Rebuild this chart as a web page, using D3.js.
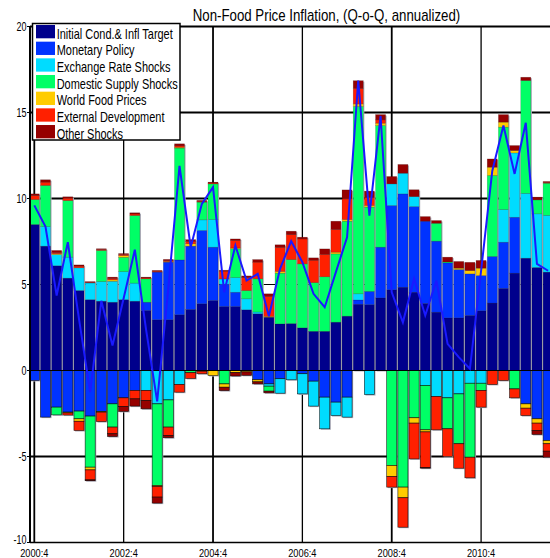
<!DOCTYPE html>
<html>
<head>
<meta charset="utf-8">
<script src="https://cdn.jsdelivr.net/npm/d3@7"></script>
<style>
  body { margin: 0; background: #fff; }
  svg { display: block; }
  text { font-family: "Liberation Sans", Arial, sans-serif; fill: #000; }
</style>
</head>
<body>
<svg id="chart" width="550" height="558"></svg>
<script>
// Quarterly decomposition of non-food price inflation (Q-o-Q, annualized)
const quarters = [
  "2000:4","2001:1","2001:2","2001:3","2001:4","2002:1","2002:2","2002:3","2002:4","2003:1",
  "2003:2","2003:3","2003:4","2004:1","2004:2","2004:3","2004:4","2005:1","2005:2","2005:3",
  "2005:4","2006:1","2006:2","2006:3","2006:4","2007:1","2007:2","2007:3","2007:4","2008:1",
  "2008:2","2008:3","2008:4","2009:1","2009:2","2009:3","2009:4","2010:1","2010:2","2010:3",
  "2010:4","2011:1","2011:2","2011:3","2011:4","2012:1","2012:2"
];
const xTickLabels = ["2000:4","2002:4","2004:4","2006:4","2008:4","2010:4"];
const yTickValues = [-10, -5, 0, 5, 10, 15, 20];

// Contributions, split into the parts pushing up and pushing down
const initialCond = [8.49,7.23,6.09,5.37,4.65,4.12,4.03,3.97,4.12,4.03, 3.49,2.95,2.95,3.24,3.55,3.88,4.07,3.72,3.72,3.53,
  3.3,3.1,2.71,2.73,2.48,2.28,2.28,2.81,3.16,3.85, 3.83,4.22,4.69,4.84,4.55,3.9,3.39,3.06,3.06,3.2, 3.47,3.92,4.77,5.66,6.53,5.99,5.72];
const monetaryUp = [0,0,0,0,0,0,0,0,0,0, 0.48,2.77,3.35,3.19,3.68,4.26,3.1,1.3,0.83,0,
  0,0,0,0,0,0,0,0,0,0.25, 0.77,2.95,4.9,5.43,4.98,4.78,4.13,3.2,2.81,2.42, 2.05,2.71,2.69,3.25,0,0,0];
const monetaryDown = [-0.58,-2.71,-2.13,-2.42,-2.36,-2.65,-2.38,-1.94,-1.59,-1.16, 0,0,0,0,0,0,0,0,0,0,
  -0.54,-0.78,-0.48,0,-0.19,-0.62,-1.55,-1.84,-1.55,0, 0,0,0,0,0,0,0,0,0,0, 0,0,0,0,-1.94,-2.81,-4.07];
const exchangeUp = [0,1.14,0.65,1.22,1.32,0.97,1.14,1.22,1.63,1.05, 0,0,0,0,0,0.62,1.61,0.3,0.85,0.64,
  0.1,0,0,0,0,0,0,0,0,0.36, 0,0,1.26,1.2,0.58,0,0,0,0,0, 0,0,1.9,3.74,3.77,3.12,3.3];
const exchangeDown = [0,0,0,0,0,0,0,0,0,0, -1.16,-1.94,-1.71,-0.81,0,0,0,0,0,0,
  0,-0.13,-0.84,-0.54,-1.17,-1.45,-1.84,-0.78,-1.16,0, -1.4,0,0,0,0,-0.87,-1.51,-1.59,-1.36,-0.74, -0.74,0,0,0,0,0,0];
const domesticUp = [1.45,2.39,0,3.29,0,0,1.81,0,0.83,3.93, 1.36,0,0,6.5,0,1.03,2.07,0,1.67,0.48,
  1.93,0,2.95,3.72,3.72,2.83,3.17,3.97,5.52,10.89, 4.9,7.07,0,0,0,0,1.04,0.05,0,0, 0,4.71,4.79,0,6.56,0.81,1.87];
const domesticDown = [0,0,-0.45,0,-0.45,-2.97,0,-1.35,0,0, 0,-4.75,-1.58,0,-0.13,-0.04,0,-0.78,0,0,
  0,-0.29,0,0,0,0,0,0,0,0, 0,0,-5.52,-6.78,-2.75,-2.58,0,-1.8,-2.9,-4.3, -0.42,0,0,-1.07,0,0,0];
const foodUp = [0,0,0.05,0,0,0,0,0.08,0.1,0, 0,0,0.04,0.05,0.14,0,0,0,0.05,0,
  0,0.05,0.1,0,0,0,0,0.1,0.1,0.15, 0.1,0.14,0,0,0,0,0,0,0.08,0.19, 0.43,0.48,0.29,0.14,0,0,0];
const foodDown = [0,0,0,-0.05,-0.14,-0.16,-0.04,0,0,0, 0,-0.05,0,0,0,0,-0.29,-0.19,-0.12,-0.08,
  -0.12,0,0,0,0,0,0,0,0,0, 0,0,-0.64,-0.62,-0.31,-0.12,0,0,0,0, 0,0,0,0,-0.25,-0.25,-0.19];
const externalUp = [0.23,0.19,0.07,0.14,0.1,0.03,0.05,0.08,0.07,0.09, 0.05,0.05,0.04,0.08,0.14,0.05,0.05,0.45,0.44,0.75,
  0.97,1.16,1.4,1.45,1.45,1.3,1.3,1.32,1.2,0.9, 0.45,0.19,0,0,0,0,0,0,0,0, 0,0,0,0,0,0,0.04];
const externalDown = [0,0,0,-0.12,-0.54,-0.58,-0.55,-0.39,-0.5,-0.49, -0.58,-0.62,-0.49,-0.45,-0.33,-0.15,0,0,0,0,
  0,0,0,0,0,0,0,0,0,0, 0,0,-0.62,-1.71,-2.08,-2.06,-1.94,-1.61,-1.42,-1.2, -0.97,-0.81,-0.58,-0.52,-0.43,-0.43,-0.43];
const otherUp = [0.1,0.14,0.12,0.08,0.07,0.05,0.05,0.08,0.05,0.07, 0.05,0.05,0.08,0.12,0.1,0.05,0.05,0.06,0.09,0.1,
  0.15,0.15,0.15,0.2,0.1,0.14,0.32,0.48,0.52,0.45, 0.38,0.31,0.43,0.51,0.4,0.27,0.16,0.28,0.39,0.48, 0.45,0.48,0.44,0.29,0.19,0.16,0.06];
const otherDown = [0,0,0,0,0,-0.05,0,-0.16,-0.29,-0.42, -0.49,-0.35,-0.13,0,0,0,0,-0.2,-0.2,-0.2,
  -0.12,-0.1,0,0,0,0,0,0,0,0, 0,0,0,0,0,-0.05,0,0,0,0, 0,0,0,0,0,-0.23,-0.35];

// Observed inflation
const inflation = [9.6,8.37,4.36,7.46,3.0,-1.26,4.05,1.45,4.2,7.02, 2.4,-1.8,4.8,11.9,7.17,9.69,10.66,4.55,7.27,5.23,
  5.62,3.16,5.91,7.52,6.3,4.46,3.68,5.72,7.75,16.86, 9.0,14.8,4.55,2.8,5.33,3.2,5.23,1.55,0.78,0.1, 5.8,11.6,14.24,11.43,14.4,6.2,5.8];

const seriesNames = ["Initial Cond.& Infl Target","Monetary Policy","Exchange Rate Shocks",
  "Domestic Supply Shocks","World Food Prices","External Development","Other Shocks"];
const seriesColors = ["#00008c","#0033ff","#00dcff","#00ff66","#ffcc00","#ff2000","#960000"];

// Stack keys: each group contributes an upward and a downward part
const parts = [
  {key: "init", group: 0, values: initialCond},
  {key: "monUp", group: 1, values: monetaryUp}, {key: "monDn", group: 1, values: monetaryDown},
  {key: "excUp", group: 2, values: exchangeUp}, {key: "excDn", group: 2, values: exchangeDown},
  {key: "domUp", group: 3, values: domesticUp}, {key: "domDn", group: 3, values: domesticDown},
  {key: "fooUp", group: 4, values: foodUp}, {key: "fooDn", group: 4, values: foodDown},
  {key: "extUp", group: 5, values: externalUp}, {key: "extDn", group: 5, values: externalDown},
  {key: "othUp", group: 6, values: otherUp}, {key: "othDn", group: 6, values: otherDown}
];
const table = quarters.map((q, i) => {
  const row = {quarter: q};
  parts.forEach(p => { row[p.key] = p.values[i]; });
  return row;
});
const stacked = d3.stack()
  .keys(parts.map(p => p.key))
  .offset(d3.stackOffsetDiverging)(table);

const svg = d3.select("#chart");
const x = d3.scaleBand().domain(quarters).range([28.72, 553.7]).paddingInner(0.1).paddingOuter(0.05);
const y = d3.scaleLinear().domain([-10, 20]).range([542.5, 26.5]);
const cx = q => x(q) + x.bandwidth() / 2;

function condense(sel, k) {
  sel.each(function () {
    const w = this.getComputedTextLength();
    d3.select(this).attr("textLength", w * k).attr("lengthAdjust", "spacingAndGlyphs");
  });
}

// Grid
const grid = svg.append("g");
grid.selectAll("line.h").data([20, 15, 10, 5, -5]).join("line")
  .attr("x1", 30).attr("x2", 550).attr("y1", d => y(d)).attr("y2", d => y(d))
  .attr("stroke", "#000").attr("stroke-width", d => d === 5 ? 1.1 : 1.8);
grid.selectAll("line.v").data(xTickLabels).join("line")
  .attr("x1", d => cx(d)).attr("x2", d => cx(d)).attr("y1", y(20)).attr("y2", y(-10))
  .attr("stroke", "#000").attr("stroke-width", (d, i) => i % 2 === 0 ? 1.8 : 1.3);

// Bar shadows
const extent = quarters.map((q, i) => {
  let lo = 0, hi = 0;
  stacked.forEach(s => { lo = Math.min(lo, s[i][0], s[i][1]); hi = Math.max(hi, s[i][0], s[i][1]); });
  return {q, lo, hi};
});
svg.append("g").selectAll("rect").data(extent).join("rect")
  .attr("x", d => x(d.q) + 1.1).attr("width", x.bandwidth())
  .attr("y", d => y(d.hi) + 1).attr("height", d => y(d.lo) - y(d.hi))
  .attr("fill", "#b0b0bc");

// Stacked bars
const barLayer = svg.append("g");
stacked.forEach((s, si) => {
  const part = parts[si];
  barLayer.append("g").selectAll("rect")
    .data(s.filter(d => Math.abs(d[1] - d[0]) > 1e-9))
    .join("rect")
    .attr("x", d => x(d.data.quarter)).attr("width", x.bandwidth())
    .attr("y", d => y(Math.max(d[0], d[1])))
    .attr("height", d => Math.abs(y(d[0]) - y(d[1])))
    .attr("fill", seriesColors[part.group])
    .attr("stroke", "#000")
    .attr("stroke-width", 0.6)
    .attr("stroke-opacity", part.values === initialCond || part.key.endsWith("Up") ? 0.25 : 0.85);
});

// Zero line
svg.append("line").attr("x1", 30).attr("x2", 550).attr("y1", y(0)).attr("y2", y(0))
  .attr("stroke", "#000").attr("stroke-width", 1);

// Inflation line
svg.append("path")
  .datum(inflation)
  .attr("fill", "none").attr("stroke", "#1a1aff").attr("stroke-width", 2)
  .attr("d", d3.line().x((d, i) => cx(quarters[i])).y(d => y(d)));

// Axes frame
svg.append("line").attr("x1", 30).attr("x2", 30).attr("y1", y(20)).attr("y2", y(-10))
  .attr("stroke", "#000").attr("stroke-width", 2);
svg.append("line").attr("x1", 30).attr("x2", 550).attr("y1", y(-10)).attr("y2", y(-10))
  .attr("stroke", "#000").attr("stroke-width", 1.5);

// Y axis ticks and labels
const yAxis = svg.append("g");
yAxis.selectAll("line").data(yTickValues).join("line")
  .attr("x1", 27).attr("x2", 30).attr("y1", d => y(d)).attr("y2", d => y(d))
  .attr("stroke", "#000").attr("stroke-width", 1);
yAxis.selectAll("text").data(yTickValues).join("text")
  .attr("x", 26.5).attr("y", d => y(d) - (d === -10 ? 3 : 0)).attr("dy", "0.35em")
  .attr("text-anchor", "end").style("font-size", "12.5px")
  .text(d => d)
  .call(condense, 0.72);

// X labels
svg.append("g").selectAll("text").data(xTickLabels).join("text")
  .attr("x", d => cx(d)).attr("y", 556.5)
  .attr("text-anchor", "middle").style("font-size", "11px")
  .text(d => d)
  .call(condense, 0.84);

// Title
svg.append("text").attr("x", 326.5).attr("y", 20.5).attr("text-anchor", "middle")
  .style("font-size", "17px").text("Non-Food Price Inflation, (Q-o-Q, annualized)")
  .call(condense, 0.78);

// Legend
const legend = svg.append("g");
legend.append("rect").attr("x", 32.5).attr("y", 23.5).attr("width", 147.5).attr("height", 116.5)
  .attr("fill", "#fff").attr("stroke", "#000").attr("stroke-width", 1.5);
const rows = legend.selectAll("g").data(seriesNames).join("g")
  .attr("transform", (d, i) => `translate(0,${25 + i * 16.67})`);
rows.append("rect").attr("x", 36).attr("y", 0).attr("width", 19).attr("height", 13.3)
  .attr("fill", (d, i) => seriesColors[i]);
rows.append("text").attr("x", 56.7).attr("y", 13.8).style("font-size", "15px")
  .text(d => d)
  .call(condense, 0.73);
</script>
</body>
</html>
